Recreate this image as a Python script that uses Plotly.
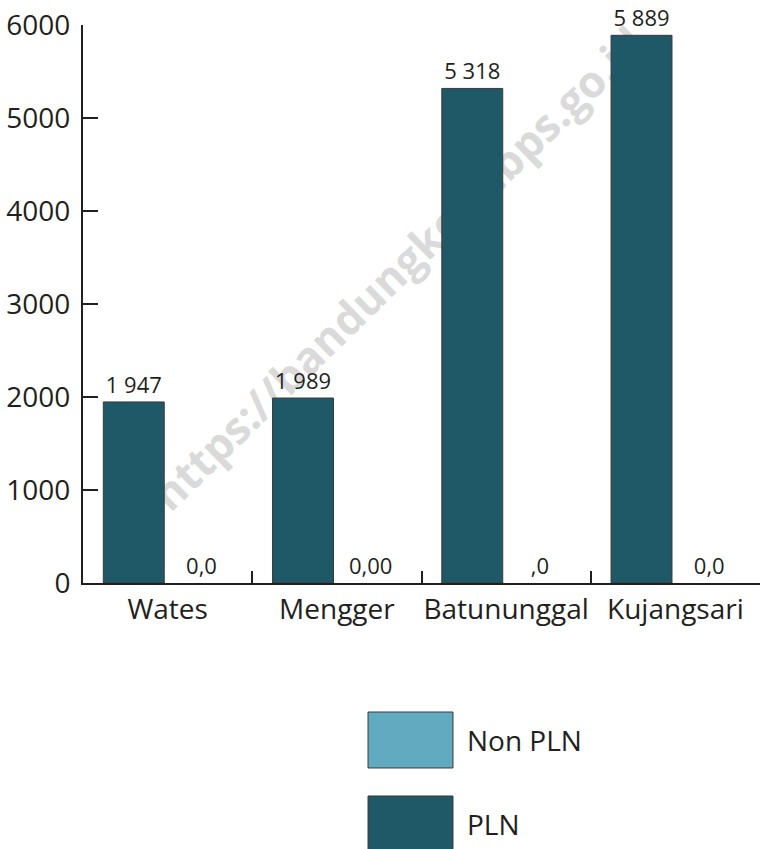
import plotly.graph_objects as go

# data
kelurahan = ["Wates", "Mengger", "Batununggal", "Kujangsari"]
pln = [1947, 1989, 5318, 5889]
pln_labels = ["1 947", "1 989", "5 318", "5 889"]
non_pln = [0, 0, 0, 0]
non_pln_labels = ["0,0", "0,00", ",0", "0,0"]
y_ticks = [0, 1000, 2000, 3000, 4000, 5000, 6000]

PLN_COLOR = "#1F5866"
NON_PLN_COLOR = "#62AAC0"
INK = "#231F20"
FONT = "Open Sans"

fig = go.Figure()

fig.add_trace(go.Bar(x=kelurahan, y=pln, name="PLN",
                     text=pln_labels, textposition="outside", cliponaxis=False,
                     textfont=dict(size=22, color=INK, family=FONT),
                     marker=dict(color=PLN_COLOR, line=dict(color="#3a3a3a", width=1)),
                     hoverinfo="skip", showlegend=False))
fig.add_trace(go.Bar(x=kelurahan, y=non_pln, name="Non PLN",
                     text=non_pln_labels, textposition="outside", cliponaxis=False,
                     textfont=dict(size=22, color=INK, family=FONT),
                     marker=dict(color=NON_PLN_COLOR, line=dict(width=0)),
                     hoverinfo="skip", showlegend=False))

fig.update_layout(width=760, height=849, autosize=False,
                  paper_bgcolor="white", plot_bgcolor="rgba(0,0,0,0)",
                  margin=dict(l=83, r=0, t=25, b=266),
                  barmode="group", bargap=0.2, bargroupgap=0.1,
                  font=dict(family=FONT, color=INK, size=28),
                  showlegend=False)

fig.update_xaxes(showline=True, linecolor=INK, linewidth=2, automargin=False, tickangle=0,
                 ticks="inside", tickson="boundaries", ticklen=12, tickwidth=2, tickcolor=INK,
                 tickfont=dict(size=28), showgrid=False, zeroline=False)
fig.update_yaxes(range=[0, 6000], tickvals=y_ticks, showline=True, linecolor=INK, linewidth=2,
                 automargin=False, ticks="inside", ticklen=15, tickwidth=2, tickcolor=INK,
                 ticklabelstandoff=5, ticklabeloverflow="allow", tickfont=dict(size=28),
                 showgrid=False, zeroline=False)

# watermark behind the bars
fig.add_shape(type="line", xref="paper", yref="paper",
              x0=0.151, y0=0.1855, x1=0.785, y1=0.9364,
              line=dict(color="rgba(0,0,0,0)", width=0), layer="below",
              label=dict(text="https://bandungkota.bps.go.id", textposition="middle",
                         yanchor="middle",
                         font=dict(family=FONT, size=44, color="#dadada", weight="bold")))

# legend drawn by hand (large swatches)
legend_items = [("Non PLN", NON_PLN_COLOR, -0.2312, -0.3315),
                ("PLN", PLN_COLOR, -0.3817, -0.482)]
for label, color, top, bottom in legend_items:
    fig.add_shape(type="rect", xref="paper", yref="paper",
                  x0=0.421, x1=0.5465, y0=bottom, y1=top,
                  fillcolor=color, line=dict(color="#3a3a3a", width=1))
    fig.add_annotation(xref="paper", yref="paper", x=0.5642, y=(top + bottom) / 2,
                       text=label, showarrow=False, xanchor="left", yanchor="middle",
                       font=dict(size=28, color=INK, family=FONT))

# drop the default 8px body margin so the figure fills the window
fig.write_html("out.html", config={"displayModeBar": False},
               post_script="document.body.style.margin='0';")
